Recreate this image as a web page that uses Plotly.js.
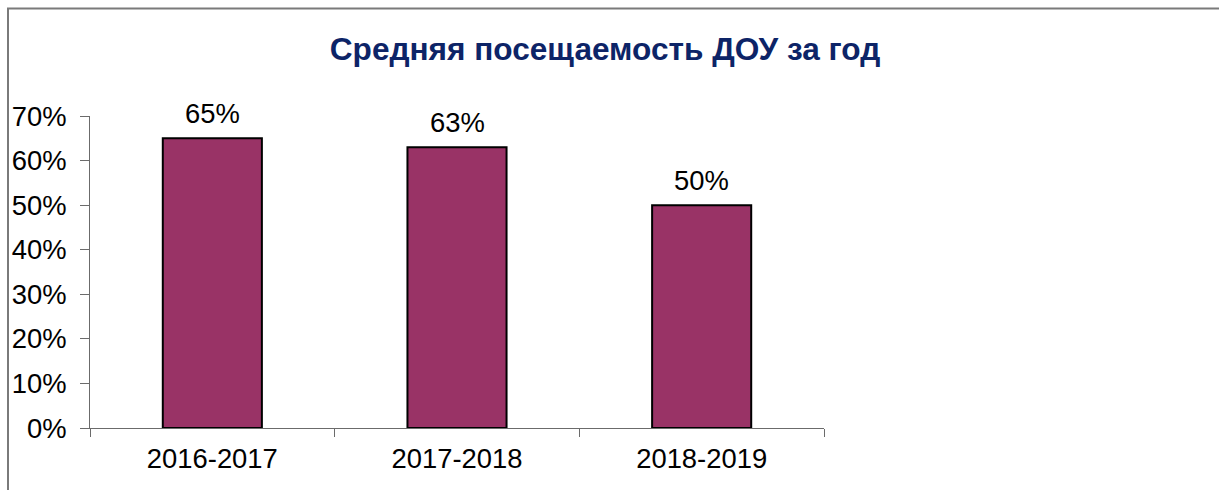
<!DOCTYPE html>
<html>
<head>
<meta charset="utf-8">
<script src="https://cdn.plot.ly/plotly-3.0.1.min.js"></script>
<style>
html, body { margin: 0; padding: 0; background: #ffffff; }
#chart { width: 1219px; height: 490px; }
</style>
</head>
<body>
<div id="chart"></div>
<script>
// Data
const categories = ["2016-2017", "2017-2018", "2018-2019"];
const values = [0.65, 0.63, 0.50];
const valueLabels = ["65%", "63%", "50%"];
const titleText = "Средняя посещаемость ДОУ за год";

const W = 1219, H = 490;
const L = 90, R = 395, T = 116, B = 62;
const pw = W - L - R, ph = H - T - B;
const FS = 27.4;

const trace = {
  type: "bar",
  x: categories,
  y: values,
  width: 0.405,
  marker: { color: "#993366", line: { color: "#000000", width: 2 } },
  hoverinfo: "skip",
  showlegend: false
};

const annotations = categories.map((c, i) => ({
  x: c, y: values[i], xref: "x", yref: "y",
  text: valueLabels[i], showarrow: false,
  yanchor: "bottom", yshift: 7,
  font: { family: "Liberation Sans, Arial, sans-serif", size: FS, color: "#000000" }
}));

const layout = {
  width: W, height: H,
  margin: { l: L, r: R, t: T, b: B, pad: 0 },
  paper_bgcolor: "#ffffff",
  plot_bgcolor: "#ffffff",
  font: { family: "Liberation Sans, Arial, sans-serif", size: FS, color: "#000000" },
  title: {
    text: "<b>" + titleText + "</b>",
    font: { family: "Liberation Sans, Arial, sans-serif", size: 31.6, color: "#0D2467" },
    x: 605 / W, xref: "container", xanchor: "center",
    y: 1 - 49 / H, yref: "container", yanchor: "middle"
  },
  xaxis: {
    type: "category",
    showgrid: false, zeroline: false,
    showline: true, linecolor: "#6b6b6b", linewidth: 1,
    ticks: "outside", tickson: "boundaries", ticklen: 8, tickcolor: "#6b6b6b", tickwidth: 1,
    tickfont: { size: FS, color: "#000000" },
    ticklabelstandoff: 6,
    fixedrange: true
  },
  yaxis: {
    range: [0, 0.7],
    tickvals: [0, 0.1, 0.2, 0.3, 0.4, 0.5, 0.6, 0.7],
    tickformat: ".0%",
    showgrid: false, zeroline: false,
    showline: true, linecolor: "#6b6b6b", linewidth: 1,
    ticks: "outside", ticklen: 9, tickcolor: "#6b6b6b", tickwidth: 1,
    tickfont: { size: FS, color: "#000000" },
    ticklabelstandoff: 8,
    fixedrange: true
  },
  shapes: [
    {
      type: "rect", xref: "paper", yref: "paper",
      x0: (8 - L) / pw, x1: 2,
      y0: -1, y1: (H - B - 8.5) / ph,
      line: { color: "#7a7a7a", width: 2 },
      fillcolor: "rgba(0,0,0,0)",
      layer: "below"
    }
  ],
  annotations: annotations,
  bargap: 0.595
};

Plotly.newPlot("chart", [trace], layout, { displayModeBar: false, staticPlot: true });
</script>
</body>
</html>
